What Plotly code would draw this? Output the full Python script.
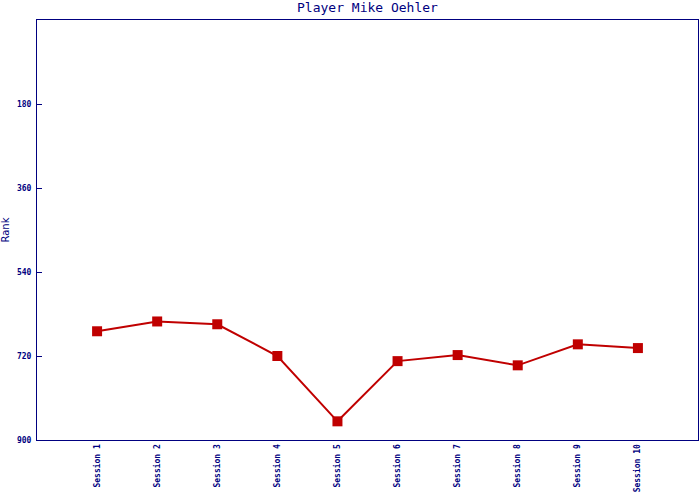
import plotly.graph_objects as go

sessions = ["Session 1", "Session 2", "Session 3", "Session 4", "Session 5",
            "Session 6", "Session 7", "Session 8", "Session 9", "Session 10"]
ranks = [667, 646, 652, 720, 860, 731, 718, 740, 695, 703]
y_ticks = [180, 360, 540, 720, 900]

navy = "#000080"
red = "#c00000"

fig = go.Figure()
fig.add_trace(go.Scatter(
    x=list(range(len(sessions))), y=ranks, mode="lines+markers",
    line=dict(color=red, width=2),
    marker=dict(symbol="square", size=10, color=red),
    showlegend=False,
))

fig.update_layout(
    width=700, height=500,
    margin=dict(l=37, r=1, t=20, b=60),
    paper_bgcolor="white", plot_bgcolor="white",
    title=dict(text="Player Mike Oehler", x=0.5, xref="paper", y=0.995, yanchor="top",
               font=dict(family="DejaVu Sans Mono", size=13, color=navy)),
    xaxis=dict(
        range=[-1, len(sessions)], tickvals=list(range(len(sessions))), ticktext=sessions,
        tickangle=-90, showgrid=False, zeroline=False,
        showline=True, linecolor=navy, linewidth=1, mirror=True,
        ticks="", tickfont=dict(family="DejaVu Sans Mono", size=8, color=navy, weight="bold"),
    ),
    yaxis=dict(
        range=[900, 0], tickvals=y_ticks, ticktext=[str(v) for v in y_ticks],
        showgrid=False, zeroline=False,
        showline=True, linecolor=navy, linewidth=1, mirror=True,
        ticks="inside", ticklen=5, tickwidth=1, tickcolor=navy, ticklabelstandoff=3,
        tickfont=dict(family="DejaVu Sans Mono", size=8, color=navy, weight="bold"),
        title=dict(text="Rank", font=dict(family="DejaVu Sans", size=10, color=navy), standoff=5),
    ),
)

post = ("document.body.style.margin='0';"
        "document.body.style.overflow='hidden';"
        "Plotly.relayout(document.getElementsByClassName('plotly-graph-div')[0], {width:700, height:500});")

fig.write_html("out.html", config={"responsive": False, "displayModeBar": False}, post_script=post)
